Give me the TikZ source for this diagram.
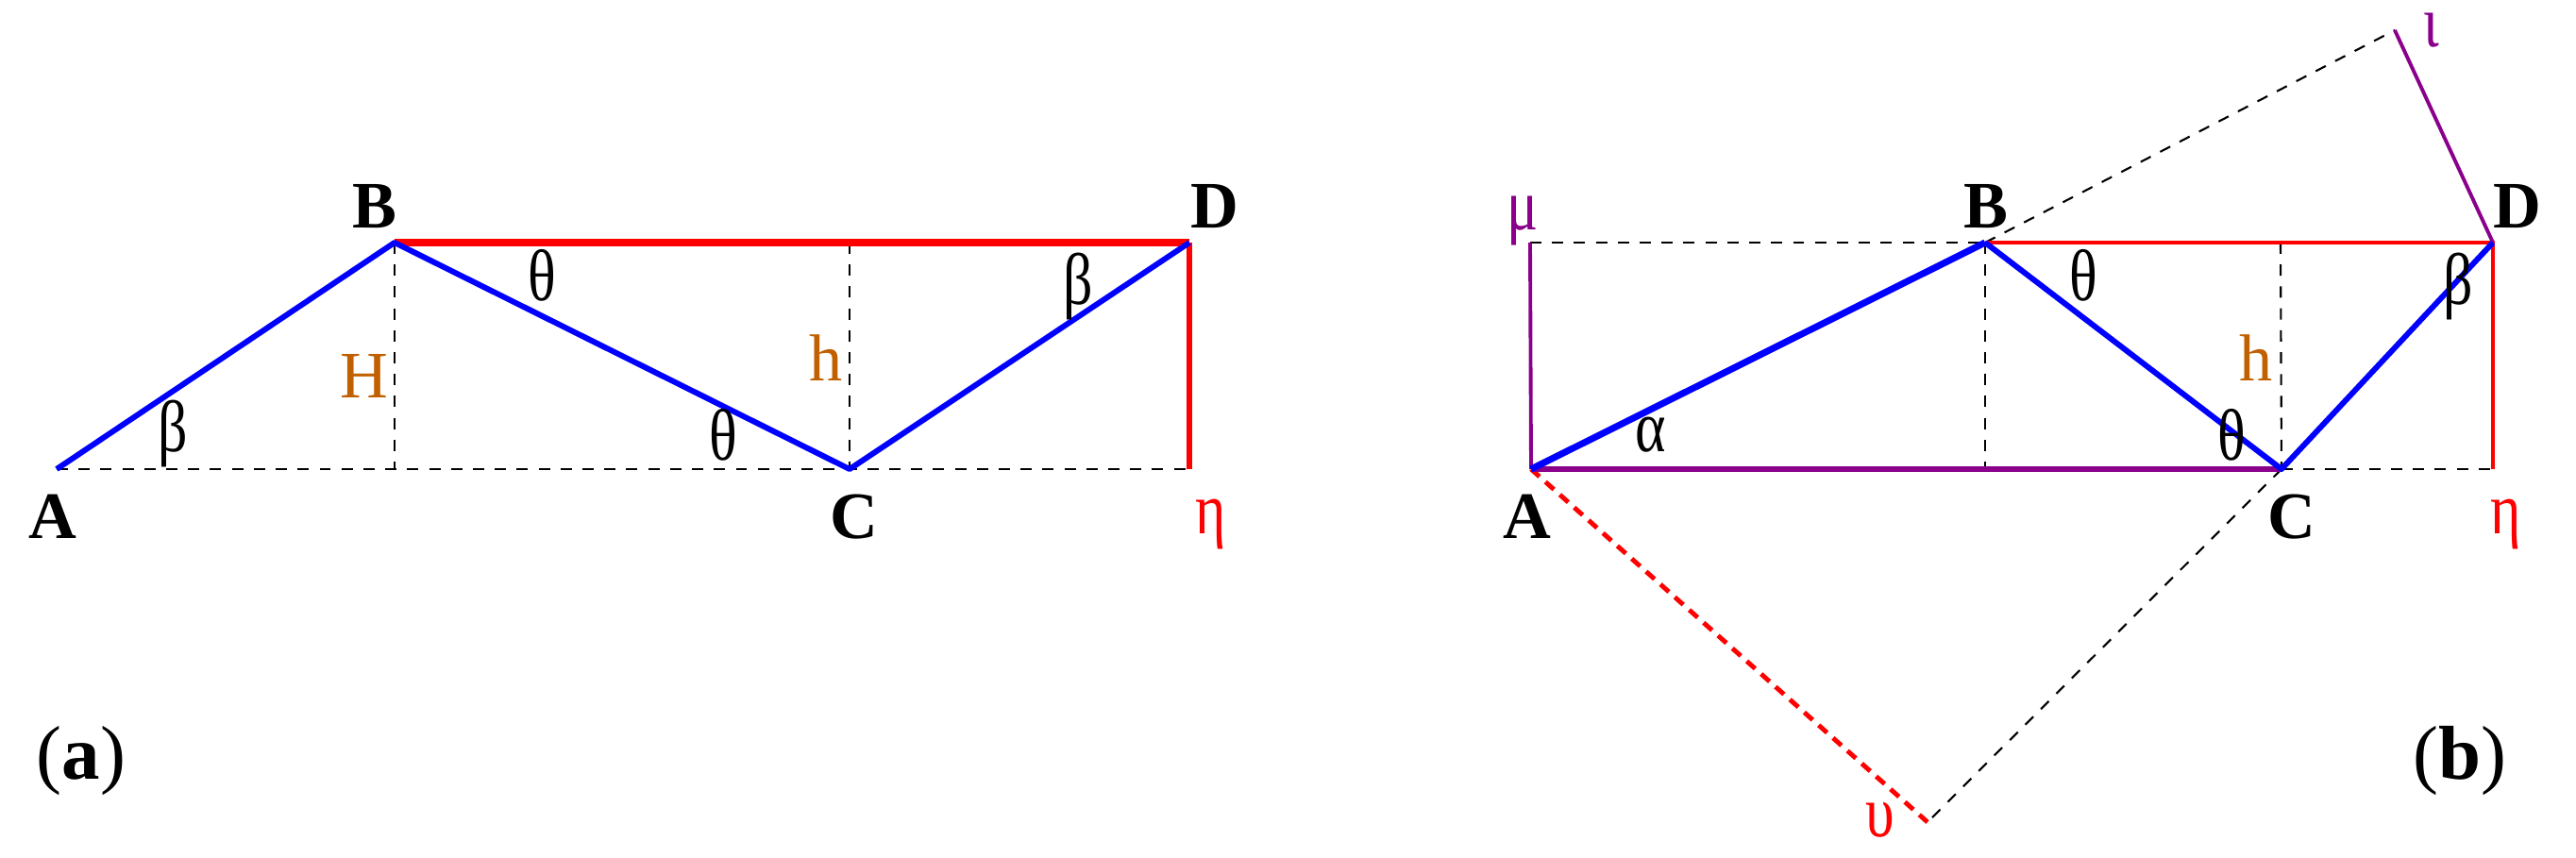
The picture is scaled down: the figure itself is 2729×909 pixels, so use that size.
\documentclass[tikz,border=0pt]{standalone}
\usepackage{fontspec}
\setmainfont{Liberation Serif}
\newfontfamily\greekface[FakeStretch=0.8]{Liberation Serif}
\definecolor{ochre}{RGB}{192,96,0}
\definecolor{plum}{RGB}{139,0,139}
\definecolor{pureblue}{RGB}{0,0,255}
\definecolor{purered}{RGB}{255,0,0}
\tikzset{
  guide/.style={draw=black, line width=0.6pt, dash pattern=on 3.4pt off 3.2pt},
  reddash/.style={draw=purered, line width=1.4pt, dash pattern=on 3.4pt off 2.4pt},
  bluepath/.style={draw=pureblue, line width=1.7pt, line join=round},
  redpath/.style={draw=purered, line width=1.1pt},
  purplepath/.style={draw=plum, line width=1.1pt},
  pt/.style={font=\fontsize{20}{22}\selectfont\bfseries, inner sep=0pt},
  gk/.style={font=\greekface\fontsize{22}{24}\selectfont, inner sep=0pt},
  mag/.style={font=\fontsize{20}{22}\selectfont, inner sep=0pt, text=ochre},
  panel/.style={font=\fontsize{23}{25}\selectfont, inner sep=0pt}
}
\begin{document}
\begin{tikzpicture}[x=0.01cm, y=-0.01cm]
\useasboundingbox (0,0) rectangle (2729,909);
% ---------- panel (a) ----------
\coordinate (aA) at (60,497);
\coordinate (aB) at (418,257);
\coordinate (aC) at (900,497);
\coordinate (aD) at (1260,257);
\coordinate (aE) at (1260,497);
\coordinate (aBf) at (418,497);
\coordinate (aCt) at (900,257);
\draw[guide] (aA) -- (aE);
\draw[guide] (aB) -- (aBf);
\draw[guide] (aCt) -- (aC);
\draw[draw=purered, line width=2pt] (aB) -- (aD);
\draw[draw=purered, line width=1.7pt] (aD) -- (aE);
\draw[bluepath] (aA) -- (aB) -- (aC) -- (aD);
\node[pt] (laA) at (56,547) {A};
\node[pt] (laB) at (397,219) {B};
\node[pt] (laC) at (905,548) {C};
\node[pt] (laD) at (1287,219) {D};
\node[gk, text=purered] (laE) at (1283,556) {η};
\node[mag] (laH) at (386,398) {H};
\node[mag] (lah) at (875,379) {h};
\node[gk] (labeta1) at (183,459) {β};
\node[gk] (latheta1) at (574,292) {θ};
\node[gk] (latheta2) at (766,461) {θ};
\node[gk] (labeta2) at (1142,303) {β};
\node[panel] (lpa) at (86,806) {(\textbf{a})};
% ---------- panel (b) ----------
\coordinate (bA) at (1622,497);
\coordinate (bB) at (2103,257);
\coordinate (bC) at (2417,497);
\coordinate (bD) at (2641,257);
\coordinate (bE) at (2641,497);
\coordinate (bM) at (1621,257);
\coordinate (bI) at (2537,32);
\coordinate (bU) at (2042,871);
\coordinate (bBf) at (2103,497);
\coordinate (bCt) at (2416,257);
\draw[guide] (bM) -- (bB);
\draw[guide] (bB) -- (bI);
\draw[guide] (bB) -- (bBf);
\draw[guide] (bCt) -- (bC);
\draw[guide] (bC) -- (bE);
\draw[guide] (bC) -- (bU);
\draw[reddash] (bA) -- (bU);
\draw[redpath] (bB) -- (bD) -- (bE);
\draw[purplepath] (bM) -- (bA);
\draw[purplepath] (bD) -- (bI);
\draw[draw=plum, line width=1.5pt] (bA) -- (bC);
\draw[draw=pureblue, line width=2pt] (bA) -- (bB);
\draw[bluepath] (bB) -- (bC) -- (bD);
\node[pt] (lbA) at (1618,547) {A};
\node[pt] (lbB) at (2104,219) {B};
\node[pt] (lbC) at (2428,548) {C};
\node[pt] (lbD) at (2667,219) {D};
\node[gk, text=purered] (lbE) at (2655,556) {η};
\node[gk, text=plum] (lbM) at (1613,234) {μ};
\node[gk, text=plum] (lbI) at (2576,32) {ι};
\node[gk, text=purered] (lbU) at (1992,869) {υ};
\node[mag] (lbh) at (2390,379) {h};
\node[gk] (lbalpha) at (1749,461) {α};
\node[gk] (lbtheta1) at (2207,292) {θ};
\node[gk] (lbtheta2) at (2364,461) {θ};
\node[gk] (lbbeta) at (2604,303) {β};
\node[panel] (lpb) at (2606,806) {(\textbf{b})};
\end{tikzpicture}
\end{document}
